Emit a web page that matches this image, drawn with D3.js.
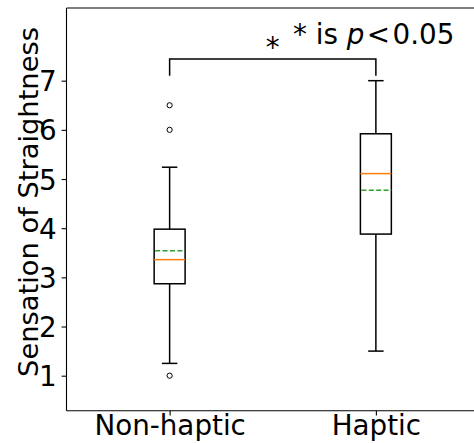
<!DOCTYPE html>
<html>
<head>
<meta charset="utf-8">
<script src="https://cdn.jsdelivr.net/npm/d3@7"></script>
<style>
  html, body { margin: 0; padding: 0; background: #fff; }
  svg { display: block; font-family: "DejaVu Sans", sans-serif; }
</style>
</head>
<body>
<svg id="chart" width="474" height="443"></svg>
<script>
// Condition labels and box statistics per condition
const categories = ["Non-haptic", "Haptic"];
const whiskerLow = [1.25, 1.5];
const quartile1 = [2.87, 3.88];
const medians = [3.36, 5.11];
const means = [3.54, 4.77];
const quartile3 = [3.98, 5.92];
const whiskerHigh = [5.24, 7.0];
const outliers = [[1.0, 6.0, 6.5], []];
const yTicks = [1, 2, 3, 4, 5, 6, 7];

// Significance bracket between the two conditions
const bracketTop = 7.44;
const bracketBottom = 7.1;
const sigMark = "*";

const W = 474, H = 443;
const plot = { left: 66.5, right: 479, top: 8, bottom: 410.7 };
const FS = 27.78;

const svg = d3.select("#chart");

const x = d3.scaleLinear().domain([0.5, 2.5]).range([plot.left, plot.right]);
const y = d3.scaleLinear().domain([0.288, 8.478]).range([plot.bottom, plot.top]);
const boxHalf = 0.075;   // half box width in x units
const capHalf = 0.0375;  // half cap width in x units

const data = categories.map((c, i) => ({
  cat: c, pos: i + 1,
  lo: whiskerLow[i], q1: quartile1[i], med: medians[i], mean: means[i],
  q3: quartile3[i], hi: whiskerHigh[i], fliers: outliers[i]
}));

// Axes frame: left, bottom and top spines
const frame = svg.append("g").attr("stroke", "#000").attr("stroke-width", 1.1);
frame.append("line").attr("x1", plot.left).attr("x2", plot.left).attr("y1", plot.top).attr("y2", plot.bottom);
frame.append("line").attr("x1", plot.left).attr("x2", plot.right).attr("y1", plot.bottom).attr("y2", plot.bottom);
frame.append("line").attr("x1", plot.left).attr("x2", plot.right).attr("y1", plot.top).attr("y2", plot.top);

// Y axis
const yAxis = d3.axisLeft(y).tickValues(yTicks).tickSize(4.9).tickPadding(4.9).tickFormat(d3.format("d"));
const gy = svg.append("g").attr("transform", `translate(${plot.left},0)`).call(yAxis);
gy.select(".domain").remove();
gy.selectAll(".tick line").attr("stroke", "#000").attr("stroke-width", 1.1);
gy.selectAll(".tick text")
  .attr("font-family", "DejaVu Sans").attr("font-size", FS).attr("fill", "#000")
  .attr("dy", null).attr("y", 0.365 * FS);

// X axis
const xAxis = d3.axisBottom(x).tickValues([1, 2]).tickSize(4.9).tickPadding(4.9)
  .tickFormat(d => categories[d - 1]);
const gx = svg.append("g").attr("transform", `translate(0,${plot.bottom})`).call(xAxis);
gx.select(".domain").remove();
gx.selectAll(".tick line").attr("stroke", "#000").attr("stroke-width", 1.1);
gx.selectAll(".tick text")
  .attr("font-family", "DejaVu Sans").attr("font-size", FS).attr("fill", "#000")
  .attr("dy", null).attr("y", 24.5);

// Y axis title
svg.append("text")
  .attr("transform", `translate(37.5,202) rotate(-90)`)
  .attr("text-anchor", "middle")
  .attr("font-size", 27.3).attr("fill", "#000")
  .text("Sensation of Straightness");

// Box plots
const boxes = svg.append("g");
data.forEach(d => {
  const g = boxes.append("g");
  const cx = x(d.pos);
  const line = (x1, y1, x2, y2) => g.append("line")
    .attr("x1", x1).attr("y1", y1).attr("x2", x2).attr("y2", y2)
    .attr("stroke", "#000").attr("stroke-width", 1.5);
  // whiskers
  line(cx, y(d.q3), cx, y(d.hi));
  line(cx, y(d.q1), cx, y(d.lo));
  // caps
  line(x(d.pos - capHalf), y(d.hi), x(d.pos + capHalf), y(d.hi));
  line(x(d.pos - capHalf), y(d.lo), x(d.pos + capHalf), y(d.lo));
  // box
  g.append("rect")
    .attr("x", x(d.pos - boxHalf)).attr("y", y(d.q3))
    .attr("width", x(d.pos + boxHalf) - x(d.pos - boxHalf))
    .attr("height", y(d.q1) - y(d.q3))
    .attr("fill", "none").attr("stroke", "#000").attr("stroke-width", 1.5);
  // median
  g.append("line")
    .attr("x1", x(d.pos - boxHalf)).attr("x2", x(d.pos + boxHalf))
    .attr("y1", y(d.med)).attr("y2", y(d.med))
    .attr("stroke", "#ff7f0e").attr("stroke-width", 1.5);
  // mean
  g.append("line")
    .attr("x1", x(d.pos - boxHalf) + 1).attr("x2", x(d.pos + boxHalf))
    .attr("y1", y(d.mean)).attr("y2", y(d.mean))
    .attr("stroke", "#2ca02c").attr("stroke-width", 1.5)
    .attr("stroke-dasharray", "5,2.4");
  // outliers
  g.selectAll("circle").data(d.fliers).join("circle")
    .attr("cx", cx).attr("cy", v => y(v)).attr("r", 2.6)
    .attr("fill", "none").attr("stroke", "#000").attr("stroke-width", 1);
});

// Significance bracket
svg.append("path")
  .attr("d", d3.line()([
    [x(1), y(bracketBottom)], [x(1), y(bracketTop)],
    [x(2), y(bracketTop)], [x(2), y(bracketBottom)]
  ]))
  .attr("fill", "none").attr("stroke", "#000").attr("stroke-width", 1.5);

svg.append("text")
  .attr("x", x(1.5)).attr("y", y(bracketTop) - 1.7)
  .attr("text-anchor", "middle").attr("font-size", FS).attr("fill", "#000")
  .text(sigMark);

// Significance note
const note = svg.append("text").attr("x", 293).attr("y", 43.5)
  .attr("font-size", FS).attr("fill", "#000");
note.append("tspan").text("* is ");
note.append("tspan").attr("font-style", "italic").text("p");
note.append("tspan").attr("dx", 2.5).text("<");
note.append("tspan").attr("dx", 2.5).text("0.05");
</script>
</body>
</html>
